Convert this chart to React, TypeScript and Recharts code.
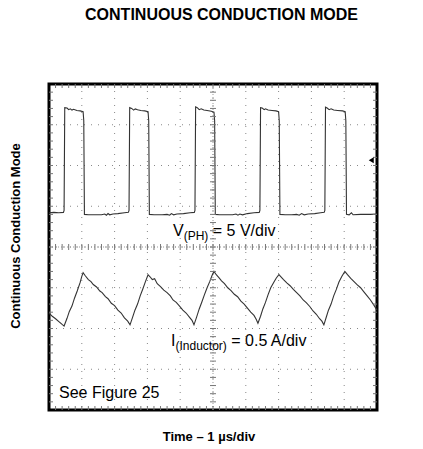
import React from "react"
import { ComposedChart, Line, Scatter, XAxis, YAxis, CartesianGrid, ReferenceLine, ReferenceArea, ReferenceDot } from "recharts"

// scope screen: 10 x 8 divisions, centre at (5, 0)
const xDivisions = [0, 1, 2, 3, 4, 5, 6, 7, 8, 9, 10]
const yDivisions = [-4, -3, -2, -1, 0, 1, 2, 3, 4]

// V(PH) trace, in divisions
const phaseVoltage = [
  { x: 0, y: 0.84 }, { x: 0.15, y: 0.85 }, { x: 0.3, y: 0.84 }, { x: 0.44, y: 0.85 },
  { x: 0.46, y: 0.9 }, { x: 0.48, y: 3.42 },
  { x: 0.55, y: 3.41 }, { x: 0.6, y: 3.37 }, { x: 0.65, y: 3.39 }, { x: 0.7, y: 3.36 }, { x: 0.75, y: 3.38 }, { x: 0.85, y: 3.35 }, { x: 0.95, y: 3.34 }, { x: 1.04, y: 3.32 },
  { x: 1.06, y: 3.1 }, { x: 1.08, y: 0.8 },
  { x: 1.2, y: 0.79 }, { x: 1.4, y: 0.79 }, { x: 1.6, y: 0.79 }, { x: 1.7, y: 0.81 }, { x: 1.75, y: 0.78 }, { x: 1.8, y: 0.82 }, { x: 1.85, y: 0.79 }, { x: 1.95, y: 0.81 }, { x: 2.1, y: 0.82 }, { x: 2.3, y: 0.84 }, { x: 2.42, y: 0.85 },
  { x: 2.44, y: 0.9 }, { x: 2.46, y: 3.42 },
  { x: 2.52, y: 3.4 }, { x: 2.58, y: 3.36 }, { x: 2.63, y: 3.39 }, { x: 2.7, y: 3.37 }, { x: 2.8, y: 3.35 }, { x: 2.92, y: 3.34 }, { x: 3.02, y: 3.32 },
  { x: 3.04, y: 3.1 }, { x: 3.06, y: 0.8 },
  { x: 3.2, y: 0.79 }, { x: 3.45, y: 0.79 }, { x: 3.6, y: 0.8 }, { x: 3.68, y: 0.78 }, { x: 3.73, y: 0.82 }, { x: 3.8, y: 0.79 }, { x: 3.9, y: 0.81 }, { x: 4.1, y: 0.82 }, { x: 4.3, y: 0.84 }, { x: 4.43, y: 0.85 },
  { x: 4.45, y: 0.9 }, { x: 4.47, y: 3.44 },
  { x: 4.52, y: 3.42 }, { x: 4.58, y: 3.37 }, { x: 4.64, y: 3.39 }, { x: 4.72, y: 3.36 }, { x: 4.82, y: 3.35 }, { x: 4.95, y: 3.33 }, { x: 5.03, y: 3.31 },
  { x: 5.05, y: 3.1 }, { x: 5.07, y: 0.8 },
  { x: 5.2, y: 0.79 }, { x: 5.4, y: 0.79 }, { x: 5.6, y: 0.79 }, { x: 5.7, y: 0.81 }, { x: 5.76, y: 0.78 }, { x: 5.82, y: 0.81 }, { x: 5.9, y: 0.79 }, { x: 6.05, y: 0.82 }, { x: 6.25, y: 0.84 }, { x: 6.41, y: 0.85 },
  { x: 6.43, y: 0.9 }, { x: 6.45, y: 3.42 },
  { x: 6.5, y: 3.41 }, { x: 6.56, y: 3.37 }, { x: 6.6, y: 3.39 }, { x: 6.68, y: 3.36 }, { x: 6.8, y: 3.35 }, { x: 6.92, y: 3.34 }, { x: 7.0, y: 3.32 },
  { x: 7.02, y: 3.1 }, { x: 7.04, y: 0.8 },
  { x: 7.2, y: 0.79 }, { x: 7.4, y: 0.79 }, { x: 7.55, y: 0.8 }, { x: 7.63, y: 0.78 }, { x: 7.7, y: 0.82 }, { x: 7.78, y: 0.79 }, { x: 7.9, y: 0.81 }, { x: 8.1, y: 0.82 }, { x: 8.28, y: 0.84 }, { x: 8.39, y: 0.85 },
  { x: 8.41, y: 0.9 }, { x: 8.43, y: 3.43 },
  { x: 8.48, y: 3.41 }, { x: 8.54, y: 3.37 }, { x: 8.6, y: 3.39 }, { x: 8.68, y: 3.36 }, { x: 8.8, y: 3.35 }, { x: 8.95, y: 3.34 }, { x: 9.03, y: 3.32 },
  { x: 9.05, y: 3.1 }, { x: 9.07, y: 0.8 },
  { x: 9.15, y: 0.79 }, { x: 9.22, y: 0.84 }, { x: 9.27, y: 0.79 }, { x: 9.5, y: 0.8 }, { x: 9.8, y: 0.8 }, { x: 10, y: 0.81 },
]

// I(Inductor) trace, in divisions
const inductorCurrent = [
  { x: 0, y: -1.62 }, { x: 0.1, y: -1.7 }, { x: 0.2, y: -1.76 }, { x: 0.3, y: -1.83 }, { x: 0.4, y: -1.9 }, { x: 0.46, y: -1.94 },
  { x: 0.55, y: -1.75 }, { x: 0.62, y: -1.58 }, { x: 0.7, y: -1.45 }, { x: 0.78, y: -1.25 }, { x: 0.86, y: -1.08 }, { x: 0.95, y: -0.87 }, { x: 1.0, y: -0.72 }, { x: 1.04, y: -0.63 },
  { x: 1.1, y: -0.7 }, { x: 1.2, y: -0.8 }, { x: 1.28, y: -0.85 }, { x: 1.35, y: -0.92 }, { x: 1.45, y: -0.98 }, { x: 1.55, y: -1.08 }, { x: 1.62, y: -1.12 }, { x: 1.72, y: -1.22 }, { x: 1.8, y: -1.27 }, { x: 1.9, y: -1.38 }, { x: 2.0, y: -1.44 }, { x: 2.1, y: -1.55 }, { x: 2.2, y: -1.62 }, { x: 2.3, y: -1.74 }, { x: 2.4, y: -1.82 }, { x: 2.47, y: -1.91 },
  { x: 2.55, y: -1.72 }, { x: 2.62, y: -1.55 }, { x: 2.7, y: -1.4 }, { x: 2.78, y: -1.2 }, { x: 2.86, y: -1.03 }, { x: 2.94, y: -0.85 }, { x: 3.02, y: -0.68 },
  { x: 3.08, y: -0.73 }, { x: 3.15, y: -0.8 }, { x: 3.22, y: -0.78 }, { x: 3.3, y: -0.9 }, { x: 3.4, y: -0.97 }, { x: 3.5, y: -1.06 }, { x: 3.6, y: -1.12 }, { x: 3.7, y: -1.2 }, { x: 3.78, y: -1.3 }, { x: 3.88, y: -1.36 }, { x: 3.98, y: -1.45 }, { x: 4.08, y: -1.55 }, { x: 4.18, y: -1.62 }, { x: 4.28, y: -1.72 }, { x: 4.36, y: -1.8 }, { x: 4.42, y: -1.91 },
  { x: 4.5, y: -1.72 }, { x: 4.58, y: -1.52 }, { x: 4.66, y: -1.35 }, { x: 4.74, y: -1.17 }, { x: 4.82, y: -1.0 }, { x: 4.9, y: -0.85 }, { x: 4.97, y: -0.7 }, { x: 5.03, y: -0.6 },
  { x: 5.1, y: -0.68 }, { x: 5.18, y: -0.75 }, { x: 5.26, y: -0.83 }, { x: 5.35, y: -0.9 }, { x: 5.45, y: -1.0 }, { x: 5.55, y: -1.07 }, { x: 5.65, y: -1.16 }, { x: 5.75, y: -1.22 }, { x: 5.85, y: -1.33 }, { x: 5.95, y: -1.4 }, { x: 6.05, y: -1.5 }, { x: 6.15, y: -1.6 }, { x: 6.25, y: -1.68 }, { x: 6.32, y: -1.78 }, { x: 6.37, y: -1.87 },
  { x: 6.45, y: -1.7 }, { x: 6.52, y: -1.52 }, { x: 6.6, y: -1.36 }, { x: 6.68, y: -1.17 }, { x: 6.76, y: -1.0 }, { x: 6.85, y: -0.87 }, { x: 6.93, y: -0.76 }, { x: 7.01, y: -0.68 },
  { x: 7.08, y: -0.74 }, { x: 7.15, y: -0.8 }, { x: 7.25, y: -0.88 }, { x: 7.35, y: -0.95 }, { x: 7.45, y: -1.04 }, { x: 7.55, y: -1.12 }, { x: 7.65, y: -1.2 }, { x: 7.75, y: -1.3 }, { x: 7.85, y: -1.37 }, { x: 7.95, y: -1.46 }, { x: 8.05, y: -1.57 }, { x: 8.15, y: -1.65 }, { x: 8.25, y: -1.76 }, { x: 8.32, y: -1.82 }, { x: 8.38, y: -1.91 },
  { x: 8.45, y: -1.73 }, { x: 8.52, y: -1.55 }, { x: 8.6, y: -1.4 }, { x: 8.68, y: -1.2 }, { x: 8.76, y: -1.04 }, { x: 8.84, y: -0.86 }, { x: 8.93, y: -0.72 }, { x: 9.02, y: -0.6 },
  { x: 9.1, y: -0.68 }, { x: 9.2, y: -0.77 }, { x: 9.3, y: -0.85 }, { x: 9.4, y: -0.93 }, { x: 9.5, y: -1.0 }, { x: 9.6, y: -1.1 }, { x: 9.7, y: -1.2 }, { x: 9.8, y: -1.3 }, { x: 9.9, y: -1.42 }, { x: 10, y: -1.55 },
]

// minor graticule marks, 5 per division
const minorX: number[] = []
for (let i = 1; i < 50; i++) minorX.push(i / 5)
const minorY: number[] = []
for (let j = -19; j < 20; j++) minorY.push(j / 5)

const topTicks = minorX.map((x) => ({ x, y: 4 }))
const bottomTicks = minorX.map((x) => ({ x, y: -4 }))
const centerHTicks = minorX.map((x) => ({ x, y: 0 }))
const leftTicks = minorY.map((y) => ({ x: 0, y }))
const rightTicks = minorY.map((y) => ({ x: 10, y }))
const centerVTicks = minorY.map((y) => ({ x: 5, y }))

const tickColor = "#777"
const mark = (dx1: number, dy1: number, dx2: number, dy2: number) => (p: any) => (
  <line x1={p.cx + dx1} y1={p.cy + dy1} x2={p.cx + dx2} y2={p.cy + dy2} stroke={tickColor} strokeWidth={1} />
)

const font = "'Liberation Sans', Arial, sans-serif"

export default function App() {
  return (
    <div style={{ position: "fixed", left: 0, top: 0, width: 423, height: 449, background: "#fff", fontFamily: font }}>
      <div style={{ position: "absolute", top: 6, left: 0, width: 443, textAlign: "center", fontWeight: "bold", fontSize: 16, lineHeight: "18px" }}>
        CONTINUOUS CONDUCTION MODE
      </div>
      <ComposedChart width={423} height={449} margin={{ top: 84, right: 46, bottom: 39, left: 49 }}>
        <XAxis type="number" dataKey="x" domain={[0, 10]} ticks={xDivisions} hide />
        <YAxis type="number" dataKey="y" domain={[-4, 4]} ticks={yDivisions} hide />
        <CartesianGrid stroke="#888" strokeDasharray="1 6" />
        <ReferenceLine x={5} stroke="#999" strokeDasharray="1 2" />
        <ReferenceLine y={0} stroke="#999" strokeDasharray="1 2" />
        <Scatter data={topTicks} shape={mark(0, 0, 0, 4)} isAnimationActive={false} />
        <Scatter data={bottomTicks} shape={mark(0, -4, 0, 0)} isAnimationActive={false} />
        <Scatter data={centerHTicks} shape={mark(0, -3, 0, 3)} isAnimationActive={false} />
        <Scatter data={leftTicks} shape={mark(0, 0, 4, 0)} isAnimationActive={false} />
        <Scatter data={rightTicks} shape={mark(-4, 0, 0, 0)} isAnimationActive={false} />
        <Scatter data={centerVTicks} shape={mark(-3, 0, 3, 0)} isAnimationActive={false} />
        <Line data={phaseVoltage} dataKey="y" type="linear" stroke="#333" strokeWidth={1.1} dot={false} isAnimationActive={false} />
        <Line data={inductorCurrent} dataKey="y" type="linear" stroke="#333" strokeWidth={1.1} dot={false} isAnimationActive={false} />
        <ReferenceDot
          x={9.84}
          y={2.13}
          r={3}
          shape={(p: any) => (
            <polygon points={`${p.cx - 3},${p.cy} ${p.cx + 2},${p.cy - 3} ${p.cx + 2},${p.cy + 3}`} fill="#000" />
          )}
        />
        <ReferenceArea x1={0} x2={10} y1={-4} y2={4} fill="none" fillOpacity={0} stroke="#000" strokeWidth={3} ifOverflow="visible" />
      </ComposedChart>
      <div style={{ position: "absolute", left: 173, top: 223, fontSize: 16, lineHeight: "16px", whiteSpace: "nowrap" }}>
        V<span style={{ fontSize: 12, position: "relative", top: 4 }}>(PH)</span> = 5 V/div
      </div>
      <div style={{ position: "absolute", left: 171, top: 333, fontSize: 16, lineHeight: "16px", whiteSpace: "nowrap" }}>
        I<span style={{ fontSize: 12, position: "relative", top: 4 }}>(Inductor)</span> = 0.5 A/div
      </div>
      <div style={{ position: "absolute", left: 59, top: 385, fontSize: 16, lineHeight: "16px", whiteSpace: "nowrap" }}>
        See Figure 25
      </div>
      <div
        style={{
          position: "absolute",
          left: 15,
          top: 236,
          transform: "translate(-50%, -50%) rotate(-90deg)",
          fontSize: 13,
          fontWeight: "bold",
          whiteSpace: "nowrap",
        }}
      >
        Continuous Conduction Mode
      </div>
      <div style={{ position: "absolute", left: 0, width: 418, top: 429, textAlign: "center", fontSize: 13, fontWeight: "bold", lineHeight: "15px" }}>
        Time – 1 µs/div
      </div>
    </div>
  )
}
